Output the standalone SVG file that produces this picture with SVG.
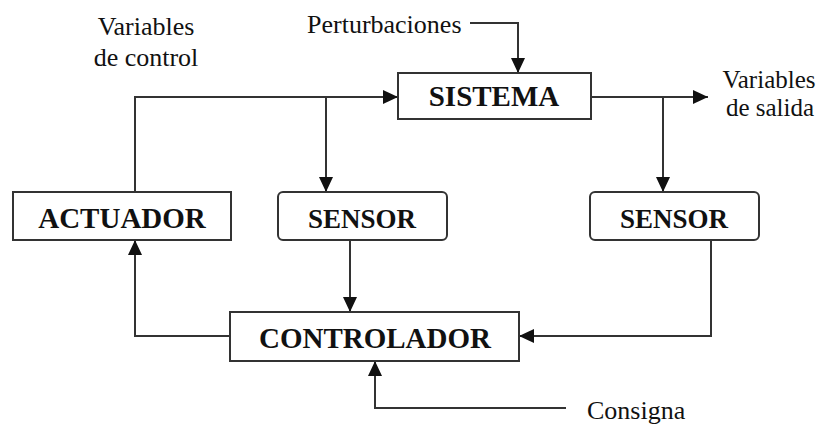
<svg xmlns="http://www.w3.org/2000/svg" width="826" height="426" viewBox="0 0 826 426">
<style>
.box{fill:#fff;stroke:#333;stroke-width:2}
.lbl{font-family:"Liberation Serif","Times New Roman",serif;font-weight:bold;font-size:29px;fill:#111;text-anchor:middle}
.sen{font-size:27px}
.ln{fill:none;stroke:#333;stroke-width:2}
</style>
<defs>
<marker id="arr" markerWidth="15" markerHeight="14" refX="15" refY="7" orient="auto" markerUnits="userSpaceOnUse">
<polygon points="0,0 15,7 0,14" fill="#111"/>
</marker>
</defs>
<rect width="826" height="426" fill="#fff"/>
<g id="connectors">
<polyline class="ln" points="135,192 135,97 398,97" marker-end="url(#arr)"/>
<polyline class="ln" points="326,97 326,192" marker-end="url(#arr)"/>
<polyline class="ln" points="470,23 518,23 518,73" marker-end="url(#arr)"/>
<polyline class="ln" points="591,97 708,97" marker-end="url(#arr)"/>
<polyline class="ln" points="663,97 663,192" marker-end="url(#arr)"/>
<polyline class="ln" points="350,240 350,312" marker-end="url(#arr)"/>
<polyline class="ln" points="711,240 711,336 519,336" marker-end="url(#arr)"/>
<polyline class="ln" points="230,336 135,336 135,240" marker-end="url(#arr)"/>
<polyline class="ln" points="566,408 375,408 375,361" marker-end="url(#arr)"/>
</g>
<g id="labels" font-family="'Liberation Serif', 'Times New Roman', serif" font-size="26" fill="#111">
<text x="146" y="35" text-anchor="middle">Variables</text>
<text x="146" y="66" text-anchor="middle">de control</text>
<text x="307" y="33">Perturbaciones</text>
<text x="769" y="88" text-anchor="middle" font-size="25">Variables</text>
<text x="770" y="116" text-anchor="middle" font-size="25">de salida</text>
<text x="587" y="419">Consigna</text>
</g>
<g id="sistema">
<rect class="box" x="398" y="73" width="193" height="46"/>
<text class="lbl" x="494" y="106">SISTEMA</text>
</g>
<g id="actuador">
<rect class="box" x="13" y="192" width="218" height="48"/>
<text class="lbl" x="122" y="228">ACTUADOR</text>
</g>
<g id="sensor1">
<rect class="box" x="278" y="192" width="169" height="48" rx="5"/>
<text class="lbl sen" x="362" y="228">SENSOR</text>
</g>
<g id="sensor2">
<rect class="box" x="590" y="192" width="169" height="48" rx="5"/>
<text class="lbl sen" x="674" y="228">SENSOR</text>
</g>
<g id="controlador">
<rect class="box" x="230" y="312" width="289" height="49"/>
<text class="lbl" x="375" y="348">CONTROLADOR</text>
</g>
</svg>
